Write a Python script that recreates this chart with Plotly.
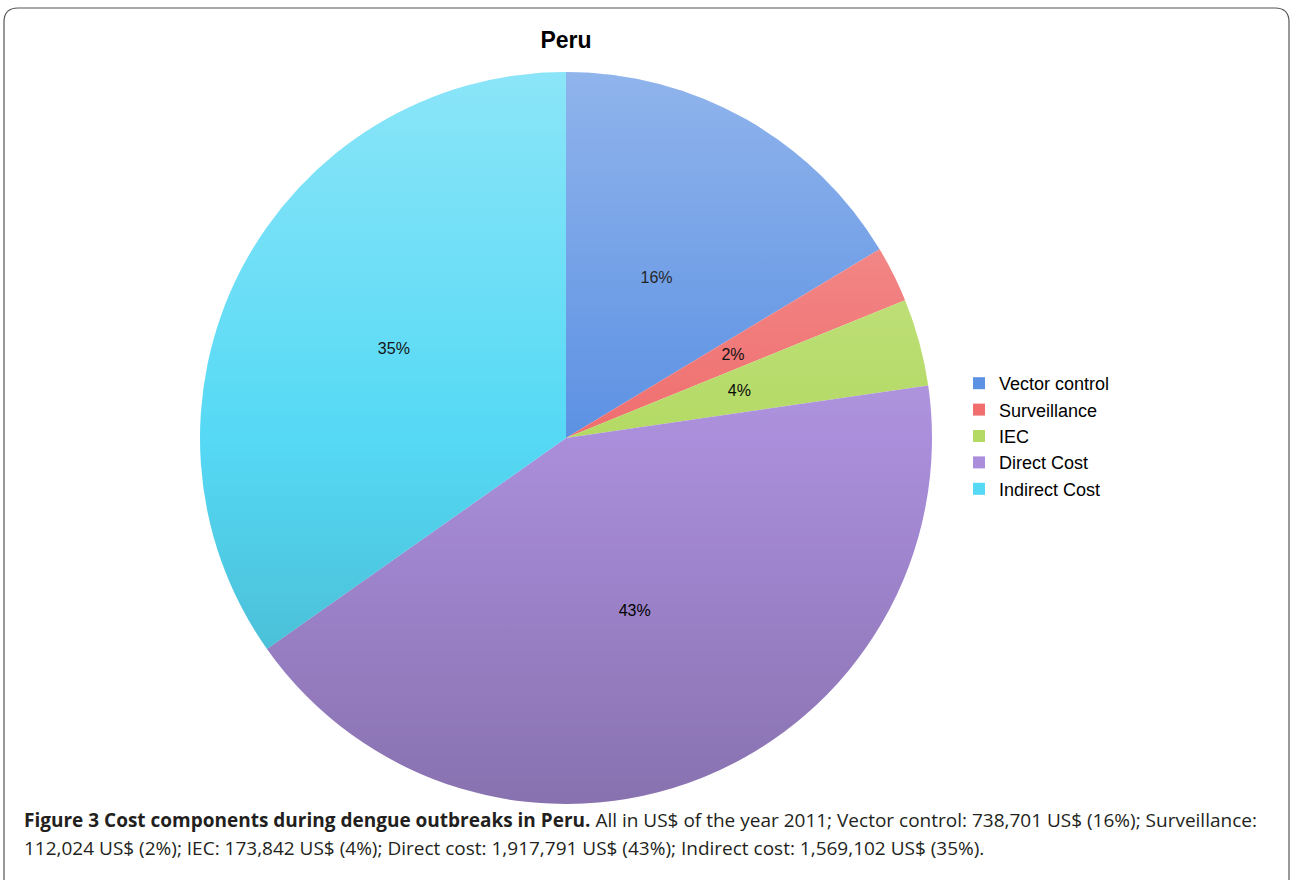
import base64
import plotly.graph_objects as go

categories = ["Vector control", "Surveillance", "IEC", "Direct Cost", "Indirect Cost"]
values_usd = [738701, 112024, 173842, 1917791, 1569102]
slice_colors = ["#5c91e3", "#f06e6e", "#b4da64", "#aa8edb", "#55d9f5"]

title_text = "Peru"
caption_bold = "Figure 3 Cost components during dengue outbreaks in Peru."
caption_line1 = " All in US$ of the year 2011; Vector control: 738,701 US$ (16%); Surveillance:"
caption_line2 = "112,024 US$ (2%); IEC: 173,842 US$ (4%); Direct cost: 1,917,791 US$ (43%); Indirect cost: 1,569,102 US$ (35%)."

W, H = 1290, 880
CX, CY, R = 566, 438, 366


def px(x):
    return x / W


def py(y):
    return 1 - y / H


def dom(k):
    rr = R * k
    return dict(x=[px(CX - rr), px(CX + rr)], y=[py(CY + rr), py(CY - rr)])


PCT = "%{percent:.0%}"
LABEL_FONT = dict(family="Liberation Sans, Arial", size=16, color="black")

fig = go.Figure()
# main pie (labels for the two large slices)
fig.add_trace(go.Pie(
    labels=categories, values=values_usd, sort=False,
    direction="clockwise", rotation=0,
    marker=dict(colors=slice_colors, line=dict(width=0)),
    texttemplate=["", "", "", PCT, PCT],
    textposition="inside", insidetextorientation="horizontal",
    textfont=LABEL_FONT, domain=dom(1.0), showlegend=True,
))
# transparent overlays carrying the labels of the smaller slices
for k, tmpl in [(0.75, [PCT, "", "", "", ""]), (0.55, ["", PCT, PCT, "", ""])]:
    fig.add_trace(go.Pie(
        labels=categories, values=values_usd, sort=False,
        direction="clockwise", rotation=0,
        marker=dict(colors=["rgba(0,0,0,0)"] * len(categories), line=dict(width=0)),
        texttemplate=tmpl, textposition="inside", insidetextorientation="horizontal",
        textfont=LABEL_FONT, domain=dom(k), showlegend=False, hoverinfo="skip",
    ))

# soft vertical shading over the disc
svg = (
    "<svg xmlns='http://www.w3.org/2000/svg' width='200' height='200' viewBox='0 0 200 200'>"
    "<defs><linearGradient id='g' x1='0' y1='0' x2='0' y2='1'>"
    "<stop offset='0' stop-color='white' stop-opacity='0.32'/>"
    "<stop offset='0.5' stop-color='white' stop-opacity='0'/>"
    "<stop offset='0.5' stop-color='black' stop-opacity='0'/>"
    "<stop offset='1' stop-color='black' stop-opacity='0.2'/>"
    "</linearGradient></defs><circle cx='100' cy='100' r='100' fill='url(#g)'/></svg>"
)
svg_uri = "data:image/svg+xml;base64," + base64.b64encode(svg.encode()).decode()

# rounded frame
x0, x1, y0, y1, r = px(4), px(1289), py(890), py(8), 14
rx, ry = r / W, r / H
frame_path = (
    f"M {x0} {y0} L {x0} {y1 - ry} Q {x0} {y1} {x0 + rx} {y1} "
    f"L {x1 - rx} {y1} Q {x1} {y1} {x1} {y1 - ry} L {x1} {y0}"
)

CAP_FONT = dict(family="Open Sans", size=19, color="#231f20")

fig.update_layout(
    width=W, height=H,
    margin=dict(l=0, r=0, t=0, b=0),
    paper_bgcolor="white",
    plot_bgcolor="white",
    font=dict(family="Liberation Sans, Arial", color="black"),
    uniformtext=dict(minsize=16, mode="show"),
    title=dict(text=f"<b>{title_text}</b>", x=px(566), xanchor="center",
               y=py(40), yanchor="middle",
               font=dict(family="Liberation Sans, Arial", size=23, color="black")),
    legend=dict(x=px(959), y=py(365), xanchor="left", yanchor="top",
                font=dict(family="Liberation Sans, Arial", size=18, color="black"),
                itemwidth=30, bgcolor="rgba(0,0,0,0)"),
    images=[dict(source=svg_uri, xref="paper", yref="paper",
                 x=px(CX - R), y=py(CY - R), sizex=2 * R / W, sizey=2 * R / H,
                 xanchor="left", yanchor="top", sizing="stretch", layer="above")],
    shapes=[dict(type="path", path=frame_path, xref="paper", yref="paper",
                 line=dict(color="#555555", width=1.2))],
    annotations=[
        dict(text=f"<b>{caption_bold}</b>{caption_line1}", x=px(22), y=py(820),
             xref="paper", yref="paper", xanchor="left", yanchor="middle",
             showarrow=False, font=CAP_FONT),
        dict(text=caption_line2, x=px(22), y=py(848),
             xref="paper", yref="paper", xanchor="left", yanchor="middle",
             showarrow=False, font=CAP_FONT),
    ],
)

fig.write_html("out.html", config={"displayModeBar": False},
               post_script="document.body.style.margin='0';")
